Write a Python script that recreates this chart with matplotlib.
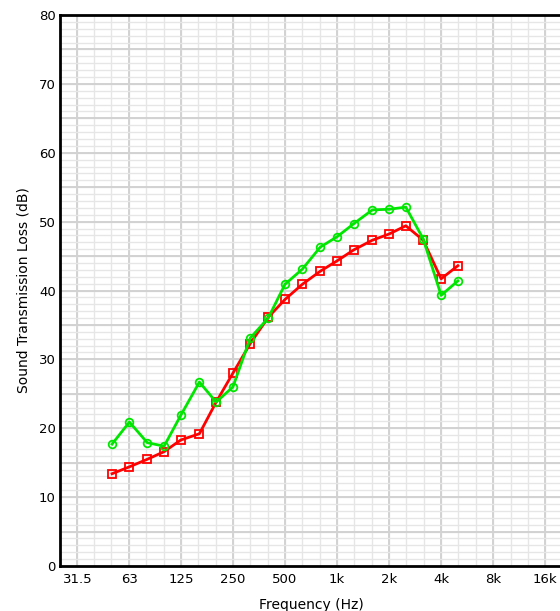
import matplotlib
matplotlib.use("Agg")
import matplotlib.pyplot as plt
import matplotlib.ticker as mticker
import numpy as np

# third-octave band centre frequencies (Hz)
freqs = [50, 63, 80, 100, 125, 160, 200, 250, 315, 400, 500, 630, 800,
         1000, 1250, 1600, 2000, 2500, 3150, 4000, 5000]
# sound transmission loss (dB)
stl_green = [17.7, 20.9, 17.9, 17.4, 21.9, 26.7, 23.8, 26.0, 33.1, 36.0, 40.9,
             43.1, 46.3, 47.8, 49.7, 51.7, 51.8, 52.1, 47.5, 39.3, 41.4]
stl_red = [13.4, 14.4, 15.5, 16.6, 18.3, 19.2, 23.8, 28.0, 32.3, 36.1, 38.7,
           40.9, 42.8, 44.3, 45.9, 47.3, 48.2, 49.4, 47.3, 41.7, 43.6]

tick_freqs = [31.5, 63, 125, 250, 500, 1000, 2000, 4000, 8000, 16000]
tick_labels = ["31.5", "63", "125", "250", "500", "1k", "2k", "4k", "8k", "16k"]

plt.rcParams['font.family'] = ['DejaVu Sans']
fig = plt.figure(figsize=(5.6, 6.11), dpi=100)
ax = fig.add_axes([60 / 560, 45 / 611, 502 / 560, 551 / 611])

ax.set_xscale('log')
ax.set_xlim(25, 20000)
ax.set_ylim(0, 80)

# grid: octaves / 5 dB darker, third-octaves / 1 dB lighter
thirds = 1000 * 2.0 ** (np.arange(-16, 14) / 3.0)
for f in thirds:
    ax.axvline(f, color='#e6e6e6', lw=1.0, zorder=0)
for f in tick_freqs:
    ax.axvline(f, color='#d2d2d2', lw=1.4, zorder=0)
for y in range(1, 80):
    ax.axhline(y, color='#e6e6e6', lw=1.0, zorder=0)
for y in range(5, 80, 5):
    ax.axhline(y, color='#d2d2d2', lw=1.4, zorder=0)

ax.plot(freqs, stl_red, color='#ff0000', lw=2, marker='s', ms=6,
        mfc='none', mec='#ff0000', mew=1.3, zorder=3)
ax.plot(freqs, stl_green, color='#00e600', lw=2, marker='o', ms=5.5,
        mfc='none', mec='#00e600', mew=1.3, zorder=4)

ax.xaxis.set_major_locator(mticker.FixedLocator(tick_freqs))
ax.xaxis.set_major_formatter(mticker.FixedFormatter(tick_labels))
ax.xaxis.set_minor_locator(mticker.NullLocator())
ax.set_yticks(range(0, 81, 10))
ax.tick_params(axis='both', length=0, labelsize=9.5, colors='black')
ax.tick_params(axis='x', pad=5)
ax.tick_params(axis='y', pad=3)

for s in ['left', 'top', 'bottom']:
    ax.spines[s].set_linewidth(2)
    ax.spines[s].set_color('black')
ax.spines['right'].set_visible(False)

ax.set_xlabel('Frequency (Hz)', fontsize=10, labelpad=9)
ax.set_ylabel('Sound Transmission Loss (dB)', fontsize=10, labelpad=6)

fig.savefig('out.png', dpi=100)
